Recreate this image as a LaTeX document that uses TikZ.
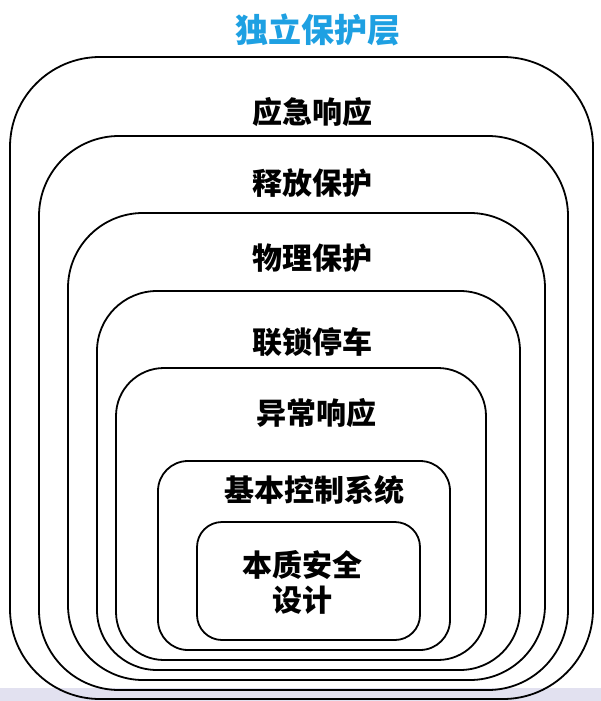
\documentclass[tikz,border=0pt]{standalone}
\usepackage{fontspec}
\newfontfamily\cjk{Noto Sans CJK SC}
\definecolor{titleblue}{RGB}{30,160,226}
\definecolor{band}{RGB}{226,225,240}
\tikzset{
  layer/.style={draw=black, line width=1.8pt, inner sep=0pt},
  lbl/.style={font=\cjk\bfseries\fontsize{30}{35}\selectfont, text=black, inner sep=0pt, align=center},
  ttl/.style={font=\cjk\bfseries\fontsize{33}{37}\selectfont, text=titleblue, inner sep=0pt}
}
\begin{document}
\begin{tikzpicture}[x=1pt,y=-1pt]
\useasboundingbox (0,0) rectangle (601,701);
\fill[white] (0,0) rectangle (601,701);
\fill[band] (0,688) rectangle (601,701);
% nested layers
\node[layer, rounded corners=90pt, minimum width=583pt, minimum height=642pt] (b1) at (301.5,378) {};
\node[layer, rounded corners=80pt, minimum width=529pt, minimum height=554pt] (b2) at (303.5,413) {};
\node[layer, rounded corners=75pt, minimum width=477pt, minimum height=467pt] (b3) at (306.5,446.5) {};
\node[layer, rounded corners=60pt, minimum width=423pt, minimum height=379pt] (b4) at (308.5,480.5) {};
\node[layer, rounded corners=48pt, minimum width=370pt, minimum height=292pt] (b5) at (301,514) {};
\node[layer, rounded corners=30pt, minimum width=292pt, minimum height=189pt] (b6) at (304,555.5) {};
\node[layer, rounded corners=25pt, minimum width=223pt, minimum height=118pt] (b7) at (308.5,581) {};
% labels
\node[ttl] (title) at (318,30) {独立保护层};
\node[lbl] (l1) at (312,112) {应急响应};
\node[lbl] (l2) at (312,183) {释放保护};
\node[lbl] (l3) at (312,258) {物理保护};
\node[lbl] (l4) at (312,342) {联锁停车};
\node[lbl] (l5) at (316,413) {异常响应};
\node[lbl] (l6) at (314,490) {基本控制系统};
\node[lbl] (l7a) at (302,565) {本质安全};
\node[lbl] (l7b) at (302,600) {设计};
\end{tikzpicture}
\end{document}
